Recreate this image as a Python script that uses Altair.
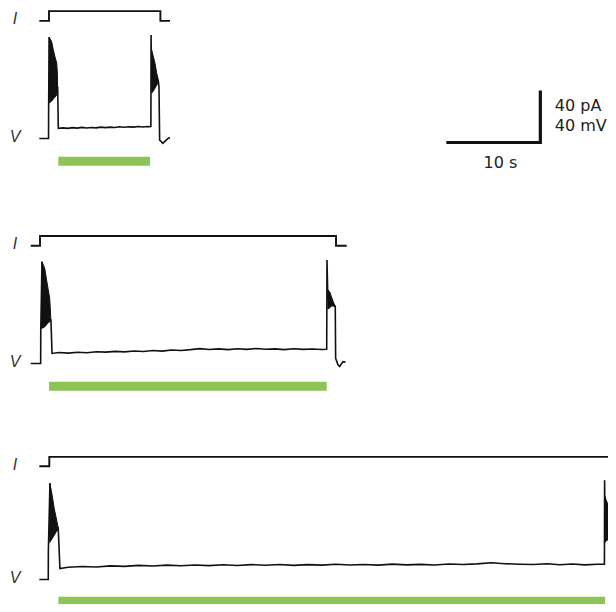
import altair as alt
import pandas as pd

# ---------------- data ----------------
# time in s from the onset of the current step; V in mV above rest; I in pA above holding

# Panel 1 (short step)
P1_V_T = [-1.03, -0.05, -0.04, 0.02, 0.05, 0.85, 0.92, 0.99,
          1.5, 2.0, 2.5, 3.0, 3.5, 4.0, 4.5, 5.0, 5.5, 6.0, 6.5, 7.0, 7.5, 8.0, 8.5, 9.0, 9.5, 10.0, 10.5, 10.74,
          10.84, 10.86, 10.92, 11.63, 11.7, 11.77, 11.95, 12.1, 12.35, 12.69, 12.87]
P1_V_MV = [0, 0, 21.9, 78.1, 30, 36, 40, 7.8,
           8.2, 7.8, 8.4, 8.0, 8.6, 8.1, 8.5, 8.2, 8.8, 8.4, 8.8, 8.5, 9.0, 8.7, 9.0, 8.8, 9.2, 8.9, 9.2, 9.1,
           9.3, 79.6, 40, 44, 40, -1.2, -2.5, -3.7, -2.0, 0.2, 0.5]
P1_BURST1_T = [0.02, 0.29, 0.46, 0.64, 0.82, 0.9]
P1_BURST1_TOP = [78.1, 74.2, 68.1, 62.7, 58.1, 48.8]
P1_BURST1_BOT = [27.3, 28.8, 30.4, 31.9, 33.5, 38.8]
P1_BURST2_T = [10.92, 11.1, 11.28, 11.46, 11.63]
P1_BURST2_TOP = [68, 63, 57.8, 50.2, 45]
P1_BURST2_BOT = [35, 36.5, 38.8, 41.2, 42.7]
P1_I_T = [-1.03, 0, 0, 11.85, 11.85, 12.87]
P1_I_PA = [0, 0, 7.5, 7.5, 0, 0]
P1_GREEN = [0.99, 10.74]

# Panel 2 (medium step)
P2_V_T = [-0.99, 0.07, 0.08, 0.21, 0.26, 1.1, 1.16, 1.28,
          2, 3, 4, 5, 6, 7, 8, 9, 10, 11, 12, 13, 14, 15, 16, 17, 18, 19, 20, 21, 22, 23, 24, 25,
          26, 27, 28, 29, 30, 30.46,
          30.5, 30.53, 30.62, 31.35, 31.41, 31.45, 31.7, 31.88, 32.23, 32.5]
P2_V_MV = [0, 0, 24.4, 78.3, 28, 33, 34, 7.7,
           8.4, 7.9, 8.6, 8.2, 9.0, 8.7, 9.3, 8.9, 9.6, 9.2, 9.9, 9.5, 10.3, 10.0, 10.6, 11.4, 10.7, 11.2,
           10.6, 11.3, 10.8, 11.5, 10.9, 11.2, 10.6, 11.3, 10.8, 11.1, 10.7, 10.9,
           11.0, 79.6, 50, 44, 44, 4.0, -1.1, -2.4, 1.4, 1.0]
P2_BURST1_T = [0.21, 0.5, 0.67, 0.85, 1.03, 1.14]
P2_BURST1_TOP = [78.3, 73.2, 65.5, 57.8, 50.2, 36]
P2_BURST1_BOT = [27.1, 28.1, 29.6, 31.9, 33.5, 33.0]
P2_BURST2_T = [30.62, 30.82, 31.01, 31.2, 31.35]
P2_BURST2_TOP = [56.5, 55.0, 51.2, 47.3, 45.0]
P2_BURST2_BOT = [41.9, 42.7, 44.2, 44.2, 43.5]
P2_I_T = [-0.99, 0, 0, 31.49, 31.49, 32.63]
P2_I_PA = [0, 0, 7.5, 7.5, 0, 0]
P2_GREEN = [0.96, 30.5]

# Panel 3 (long step)
P3_V_T = [-1.06, -0.11, -0.1, 0.07, 0.12, 0.85, 0.95, 1.13,
          2, 3.5, 5, 6.5, 8, 9.5, 11, 12.5, 14, 15.5, 17, 18.5, 20, 21.5, 23, 24.5, 26, 27.5, 29, 30.5,
          32, 33.5, 35, 36.5, 38, 39.5, 41, 42.5, 44, 45.5, 47, 48.5, 50, 51.5, 53, 54.5, 56, 57.5, 59, 59.78,
          59.86, 59.88, 59.93, 60.4]
P3_V_MV = [0, 0, 23.1, 76.9, 31, 40, 41, 8.8,
           9.8, 10.4, 10.0, 10.9, 10.5, 11.3, 10.8, 11.5, 11.0, 11.6, 11.1, 11.8, 11.2, 11.9, 11.4, 12.0,
           11.3, 11.9, 11.5, 12.2, 11.6, 12.0, 11.5, 12.3, 11.7, 12.1, 11.6, 12.4, 12.0, 12.5, 13.4, 12.6,
           12.2, 12.0, 12.6, 11.8, 12.4, 11.7, 12.2, 12.3,
           12.3, 79.4, 40, 32]
P3_BURST1_T = [0.07, 0.32, 0.53, 0.68, 0.89]
P3_BURST1_TOP = [76.8, 66.5, 56.3, 51.2, 43.5]
P3_BURST1_BOT = [30.6, 33.5, 35.8, 38.8, 40.9]
P3_BURST2_T = [59.93, 60.1, 60.4]
P3_BURST2_TOP = [66.5, 62.7, 58.8]
P3_BURST2_BOT = [29.6, 31.2, 31.9]
P3_I_T = [-1.06, 0, 0, 61]
P3_I_PA = [0, 0, 7.5, 7.5]
P3_GREEN = [0.96, 59.94]

SCALE_S = 10      # s
SCALE_UNITS = 40  # pA / mV
TEXT_PA = "40 pA"
TEXT_MV = "40 mV"
TEXT_S = "10 s"

# ---------------- layout ----------------
SHIFT = {1: 0.0, 2: -0.957, 3: 0.032}       # horizontal placement of each sweep (s)
V_BASE = {1: 364.2, 2: 191.2, 3: 19.6}      # vertical placement of each V trace
I_ABOVE_V = 90.5
BAR_BELOW = -17.5
CORNER = (52.27, 361.15)
GREEN = "#8dc455"
INK = "#111111"

W, H = 600, 596
x_scale = alt.Scale(domain=[-4.362, 52.766, 60.32], range=[0, 537, W], nice=False, zero=False)
y_scale = alt.Scale(domain=[0, 163.08, 464.6], range=[H, 392, 0], nice=False, zero=False)

V = {1: (P1_V_T, P1_V_MV), 2: (P2_V_T, P2_V_MV), 3: (P3_V_T, P3_V_MV)}
I = {1: (P1_I_T, P1_I_PA), 2: (P2_I_T, P2_I_PA), 3: (P3_I_T, P3_I_PA)}
B = {
    (1, "a"): (P1_BURST1_T, P1_BURST1_TOP, P1_BURST1_BOT),
    (1, "b"): (P1_BURST2_T, P1_BURST2_TOP, P1_BURST2_BOT),
    (2, "a"): (P2_BURST1_T, P2_BURST1_TOP, P2_BURST1_BOT),
    (2, "b"): (P2_BURST2_T, P2_BURST2_TOP, P2_BURST2_BOT),
    (3, "a"): (P3_BURST1_T, P3_BURST1_TOP, P3_BURST1_BOT),
    (3, "b"): (P3_BURST2_T, P3_BURST2_TOP, P3_BURST2_BOT),
}
G = {1: P1_GREEN, 2: P2_GREEN, 3: P3_GREEN}

v_rows, i_rows, b_rows, g_rows, lab_rows = [], [], [], [], []
for p in (1, 2, 3):
    for k, (t, v) in enumerate(zip(*V[p])):
        v_rows.append(dict(key=f"V{p}", order=k, X=t + SHIFT[p], Y=v + V_BASE[p]))
    for k, (t, v) in enumerate(zip(*I[p])):
        i_rows.append(dict(key=f"I{p}", order=k, X=t + SHIFT[p], Y=v + V_BASE[p] + I_ABOVE_V))
    g_rows.append(dict(X=G[p][0] + SHIFT[p], X2=G[p][1] + SHIFT[p], Y=V_BASE[p] + BAR_BELOW))
    lab_rows.append(dict(text="I", X=-3.62, Y=V_BASE[p] + I_ABOVE_V + 1.2))
    lab_rows.append(dict(text="V", X=-3.62, Y=V_BASE[p] + 1.0))
for (p, s), (ts, top, bot) in B.items():
    for t, a, b in zip(ts, top, bot):
        b_rows.append(dict(key=f"B{p}{s}", X=t + SHIFT[p], Y=a + V_BASE[p], Y2=b + V_BASE[p]))

cx, cy = CORNER
sb_rows = [dict(order=0, X=cx - SCALE_S, Y=cy), dict(order=1, X=cx, Y=cy),
           dict(order=2, X=cx, Y=cy + SCALE_UNITS)]
txt_rows = [dict(text=TEXT_PA, X=cx + 1.67, Y=cy + 24.45),
            dict(text=TEXT_MV, X=cx + 1.67, Y=cy + 8.65)]
txt_c = [dict(text=TEXT_S, X=cx - SCALE_S / 2 + 0.76, Y=cy - 19.65)]

X = alt.X("X:Q", scale=x_scale, axis=None)
Y = alt.Y("Y:Q", scale=y_scale, axis=None, stack=None)

v_layer = alt.Chart(pd.DataFrame(v_rows)).mark_line(
    color=INK, strokeWidth=1.6, clip=True, strokeJoin="miter"
).encode(x=X, y=Y, detail="key:N", order="order:Q")

i_layer = alt.Chart(pd.DataFrame(i_rows)).mark_line(
    color=INK, strokeWidth=1.9, clip=True, strokeJoin="miter"
).encode(x=X, y=Y, detail="key:N", order="order:Q")

b_layer = alt.Chart(pd.DataFrame(b_rows)).mark_area(
    color=INK, stroke=INK, strokeWidth=1, opacity=1, clip=True, orient="vertical"
).encode(x=X, y=Y, y2="Y2:Q", detail="key:N")

g_layer = alt.Chart(pd.DataFrame(g_rows)).mark_rule(
    color=GREEN, strokeWidth=9, strokeCap="butt", clip=True
).encode(x=X, x2="X2:Q", y=Y)

sb_layer = alt.Chart(pd.DataFrame(sb_rows)).mark_line(
    color=INK, strokeWidth=3.2, strokeJoin="miter", strokeCap="butt"
).encode(x=X, y=Y, order="order:Q")

lab_layer = alt.Chart(pd.DataFrame(lab_rows)).mark_text(
    font="Liberation Sans", fontSize=16, fontStyle="italic", color="#333333",
    align="center", baseline="middle"
).encode(x=X, y=Y, text="text:N")

txt_layer = alt.Chart(pd.DataFrame(txt_rows)).mark_text(
    font="DejaVu Sans", fontSize=16, color="#222222", align="left", baseline="alphabetic"
).encode(x=X, y=Y, text="text:N")

txt_c_layer = alt.Chart(pd.DataFrame(txt_c)).mark_text(
    font="DejaVu Sans", fontSize=16, color="#222222", align="center", baseline="alphabetic"
).encode(x=X, y=Y, text="text:N")

chart = alt.layer(
    g_layer, b_layer, v_layer, i_layer, sb_layer, lab_layer, txt_layer, txt_c_layer
).properties(
    width=W, height=H, autosize=alt.AutoSizeParams(type="none"), padding=0,
    background="white"
).configure_view(stroke=None)

chart.save("out.html", embed_options={"renderer": "svg", "actions": False})
